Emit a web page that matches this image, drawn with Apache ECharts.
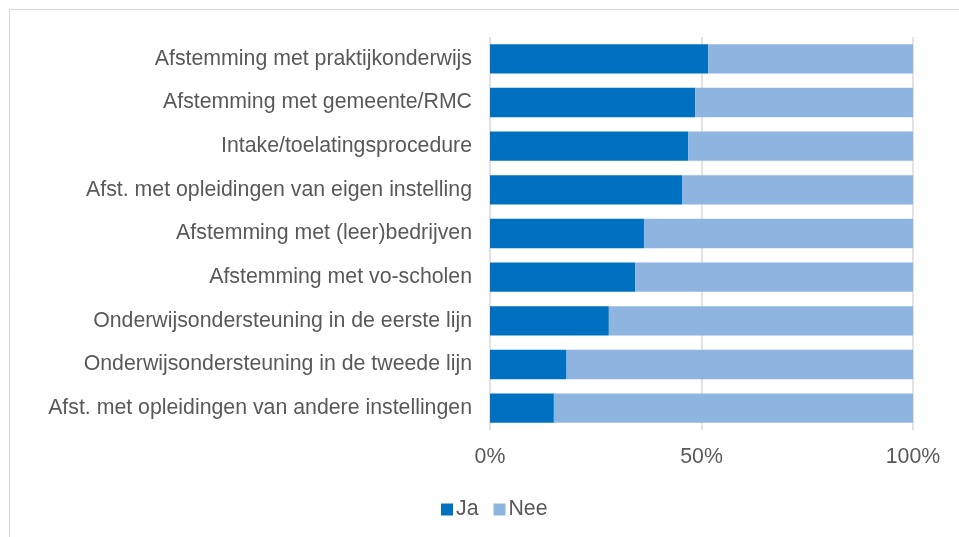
<!DOCTYPE html>
<html>
<head>
<meta charset="utf-8">
<script src="https://cdn.jsdelivr.net/npm/echarts@6/dist/echarts.min.js"></script>
<style>
  html, body { margin: 0; padding: 0; background: #fff; }
  #chart { width: 959px; height: 537px; }
</style>
</head>
<body>
<div id="chart"></div>
<script>
// categories from bottom to top (ECharts category axis starts at the bottom)
const categories = [
  'Afst. met opleidingen van andere instellingen',
  'Onderwijsondersteuning in de tweede lijn',
  'Onderwijsondersteuning in de eerste lijn',
  'Afstemming met vo-scholen',
  'Afstemming met (leer)bedrijven',
  'Afst. met opleidingen van eigen instelling',
  'Intake/toelatingsprocedure',
  'Afstemming met gemeente/RMC',
  'Afstemming met praktijkonderwijs'
]
const ja = [15.1, 18.1, 28.1, 34.3, 36.4, 45.4, 46.9, 48.5, 51.6]
const nee = ja.map(v => +(100 - v).toFixed(1))

const textColor = '#595959'
const font = 'Liberation Sans, Arial, sans-serif'

const chart = echarts.init(document.getElementById('chart'))

chart.setOption({
  animation: false,
  textStyle: { fontFamily: font },
  graphic: [{
    type: 'rect',
    shape: { x: 9.5, y: 9.5, width: 1000, height: 600 },
    style: { fill: 'none', stroke: '#d9d9d9', lineWidth: 1 },
    silent: true
  }],
  grid: {
    left: 490,
    right: 46,
    top: 37,
    bottom: 107
  },
  legend: {
    data: ['Ja', 'Nee'],
    top: 494,
    left: 436,
    itemWidth: 12,
    itemHeight: 12,
    itemGap: 15,
    icon: 'rect',
    textStyle: { color: textColor, fontSize: 21.3, fontFamily: font, padding: [0, 0, 0, -2] }
  },
  xAxis: {
    type: 'value',
    min: 0,
    max: 100,
    interval: 50,
    axisLine: { show: false },
    axisTick: { show: false },
    axisLabel: {
      color: textColor,
      fontSize: 21.3,
      margin: 17,
      formatter: v => v + '%'
    },
    splitLine: { lineStyle: { color: '#d9d9d9', width: 1.5 } }
  },
  yAxis: {
    type: 'category',
    data: categories,
    axisLine: { show: false },
    axisTick: { show: false },
    axisLabel: {
      color: textColor,
      fontSize: 21.3,
      margin: 18
    }
  },
  series: [
    {
      name: 'Ja',
      type: 'bar',
      stack: 'total',
      barCategoryGap: '33%',
      data: ja,
      itemStyle: { color: '#0070C0' }
    },
    {
      name: 'Nee',
      type: 'bar',
      stack: 'total',
      barCategoryGap: '33%',
      data: nee,
      itemStyle: { color: '#8EB4E0' }
    }
  ]
})

window.addEventListener('resize', () => chart.resize())
</script>
</body>
</html>
